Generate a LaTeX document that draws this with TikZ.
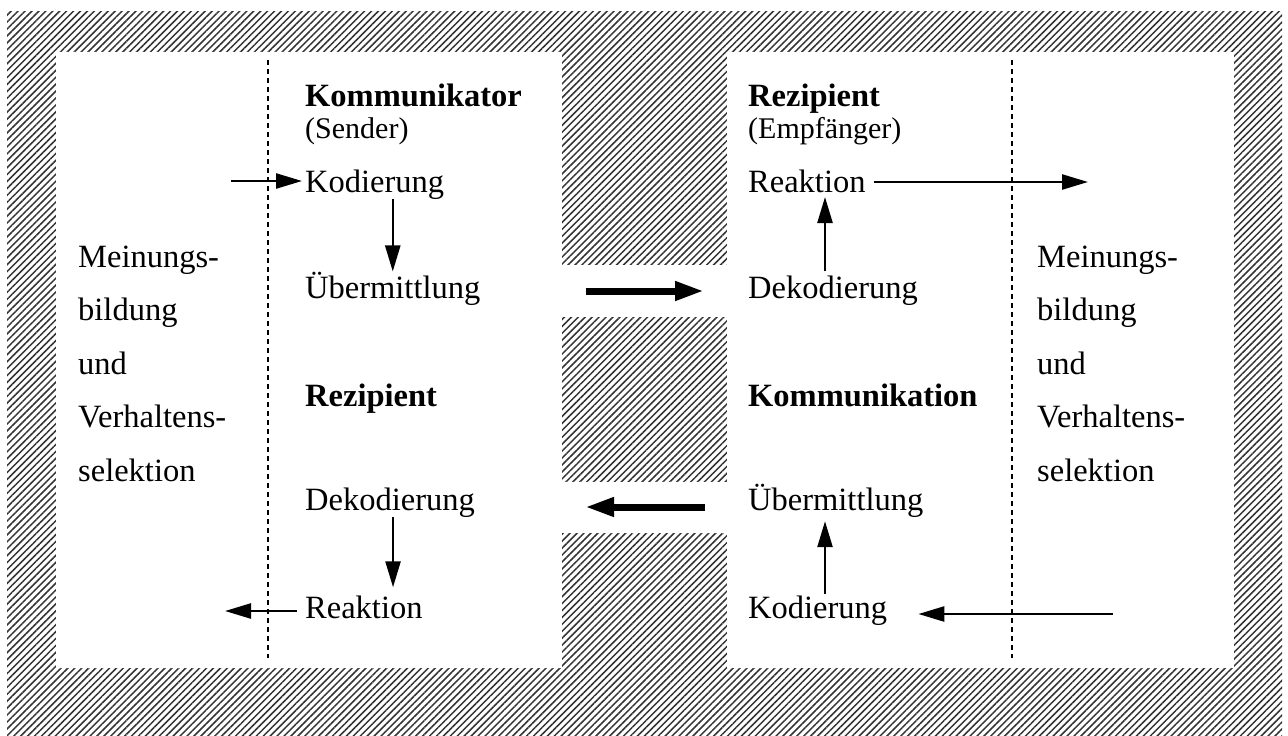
\documentclass[tikz,border=0pt]{standalone}
\usepackage{fontspec}
\setmainfont{Liberation Serif}
\usetikzlibrary{arrows.meta,patterns.meta,calc}
\begin{document}
\begin{tikzpicture}[x=1pt,y=-1pt,
  txt/.style={anchor=base west,inner sep=0pt,font=\fontsize{32.5}{39}\selectfont},
  head/.style={txt,font=\fontsize{32.5}{39}\selectfont\bfseries},
  sub/.style={txt,font=\fontsize{30}{36}\selectfont},
  thinarrow/.style={line width=2.5pt,-{Triangle[length=26pt,width=15pt]}},
  thickarrow/.style={line width=7pt,-{Triangle[length=29pt,width=18pt]}},
  sep/.style={line width=1.8pt,dash pattern=on 5pt off 4pt}]
\useasboundingbox (0,0) rectangle (1288,736);
% hatched background
\fill[pattern={Lines[angle=45,distance=4.9pt,line width=1.5pt]},pattern color=black!80] (7,11) rectangle (1282,736);
\fill[white] (56,52) rectangle (562,668);
\fill[white] (727,52) rectangle (1234,668);
\fill[white] (560,265) rectangle (729,317);
\fill[white] (560,482) rectangle (729,533);
% dashed separators
\draw[sep] (268,60) -- (268,658);
\draw[sep] (1012,60) -- (1012,658);
% side texts
\foreach \t [count=\i] in {Meinungs-,bildung,und,Verhaltens-,selektion}{
  \node[txt] (lm\i) at (78,{267+53.5*(\i-1)}) {\t};
  \node[txt] (rm\i) at (1037,{267+53.5*(\i-1)}) {\t};
}
% left column
\node[head] (komm) at (305,106) {Kommunikator};
\node[sub] (send) at (305,138) {(Sender)};
\node[txt] (kod) at (305,192) {Kodierung};
\node[txt] (ueb) at (305,298) {Übermittlung};
\node[head] (rez) at (305,406) {Rezipient};
\node[txt] (dek) at (305,510) {Dekodierung};
\node[txt] (rea) at (305,618) {Reaktion};
% right column
\node[head] (rez2) at (748,106) {Rezipient};
\node[sub] (emp) at (748,138) {(Empfänger)};
\node[txt] (rea2) at (748,192) {Reaktion};
\node[txt] (dek2) at (748,298) {Dekodierung};
\node[head] (kom2) at (748,406) {Kommunikation};
\node[txt] (ueb2) at (748,510) {Übermittlung};
\node[txt] (kod2) at (748,618) {Kodierung};
% free ends
\coordinate (inL) at (231,181);
\coordinate (outL) at (225,611);
\coordinate (outR) at (1088,182);
\coordinate (inR) at (1113,614);
% helper points on the nodes
\coordinate (kodL) at ($(kod.base west)+(-3,-11)$);
\coordinate (reaL) at ($(rea.base west)+(-8,-7)$);
\coordinate (dekD) at ($(dek.south)+(3,0)$);
\coordinate (reaT) at ($(rea.north west)+(88,-8)$);
\coordinate (rea2R) at ($(rea2.base east)+(8,-10)$);
\coordinate (dek2T) at ($(dek2.north west)+(77,-4)$);
\coordinate (rea2B) at ($(rea2.base west)+(77,5)$);
\coordinate (kod2T) at ($(kod2.north west)+(77,-1)$);
\coordinate (ueb2B) at ($(ueb2.south west)+(77,4)$);
\coordinate (kod2R) at ($(kod2.base east)+(31,-4)$);
\coordinate (uebR) at ($(ueb.base east)+(105,-7)$);
\coordinate (dek2L) at ($(dek2.base west)+(-44,-7)$);
\coordinate (ueb2L) at ($(ueb2.base west)+(-43,-3)$);
\coordinate (dekR) at ($(dek.base east)+(110,-3)$);
% left arrows
\draw[thinarrow] (inL) -- (kodL);
\draw[thinarrow] (kod.south -| ueb.north) -- (ueb.north);
\draw[thinarrow] (dekD) -- (dekD |- reaT);
\draw[thinarrow] (reaL) -- (outL);
% right arrows
\draw[thinarrow] (rea2R) -- (outR);
\draw[thinarrow] (dek2T) -- (rea2B);
\draw[thinarrow] (kod2T) -- (ueb2B);
\draw[thinarrow] (inR) -- (kod2R);
% thick arrows
\draw[thickarrow] (uebR) -- (dek2L);
\draw[thickarrow] (ueb2L) -- (dekR);
\end{tikzpicture}
\end{document}
